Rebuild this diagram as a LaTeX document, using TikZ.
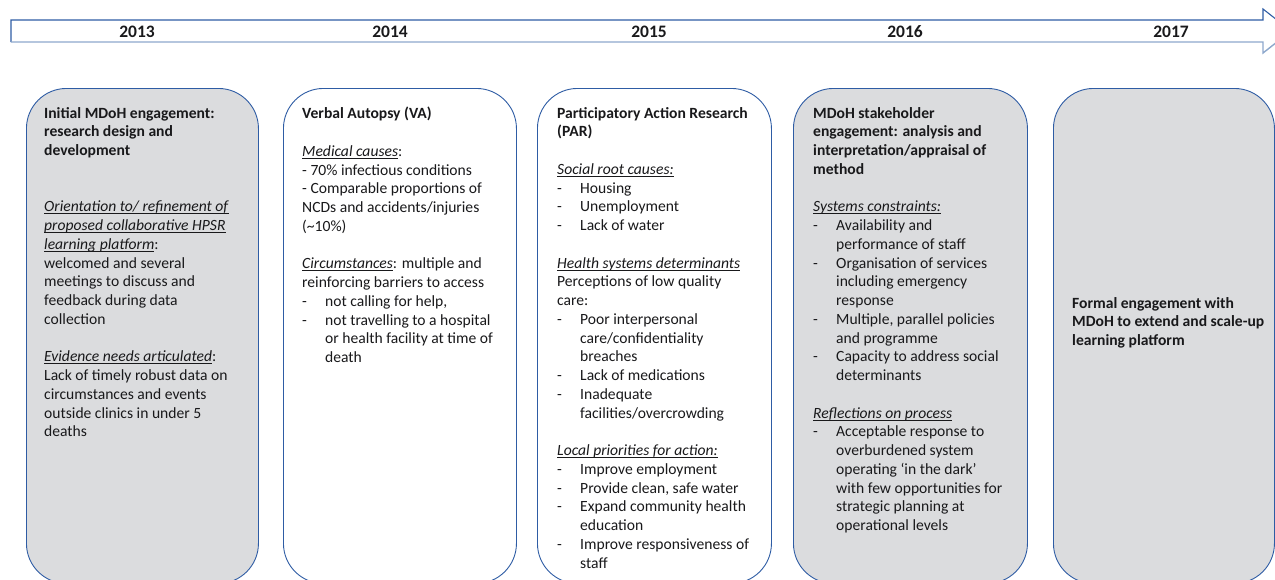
\documentclass[tikz,border=0pt]{standalone}
\usepackage{fontspec}
\setmainfont{Carlito}
\usepackage{tikz}

\definecolor{lineblue}{RGB}{46,92,164}
\definecolor{paleblue}{RGB}{141,168,204}
\definecolor{boxgray}{RGB}{219,220,222}
\definecolor{inkgray}{RGB}{25,25,27}

\newsavebox\topicbox
\newcommand{\topic}[1]{\sbox\topicbox{\textit{#1}}\rlap{\rule[-2.4pt]{\wd\topicbox}{0.9pt}}\usebox\topicbox}
\newcommand{\bul}[1]{\makebox[23pt][l]{-}#1}
\newcommand{\cont}{\hspace*{23pt}}

\begin{document}
\begin{tikzpicture}[x=1pt,y=-1pt,
		stage/.style={draw=lineblue,line width=0.9pt,rounded corners=40pt,anchor=north west,inner sep=0pt,minimum height=495pt},
		stagetext/.style={anchor=north west,align=left,inner sep=0pt,text=inkgray,font=\fontsize{15.6}{18.75}\selectfont,execute at begin node=\strut},
		yearlabel/.style={font=\fontsize{17.5}{21}\selectfont\bfseries,text=inkgray}]
			\useasboundingbox (0,0) rectangle (1275,579);
			\clip (0,0) rectangle (1275,579);

			% timeline
			\draw[lineblue,line width=1.1pt,line join=miter] (11,42) -- (11,20) -- (1263,20) -- (1263,9) -- (1291,31);
			\draw[paleblue,line width=1.4pt,line join=miter] (1291,31) -- (1263,53) -- (1263,42) -- (11,42);
			\foreach \yr/\xp in {2013/137,2014/390,2015/649,2016/905,2017/1171}
				\node[yearlabel] (y\yr) at (\xp,32) {\yr};

			% stages
			\node[stage,fill=boxgray,minimum width=232pt] (s13) at (26,88) {};
			\node[stage,fill=white,minimum width=233pt] (s14) at (283,88) {};
			\node[stage,fill=white,minimum width=234pt] (s15) at (537,88) {};
			\node[stage,fill=boxgray,minimum width=234pt] (s16) at (793,88) {};
			\node[stage,fill=boxgray,minimum width=221pt] (s17) at (1053,88) {};

			\node[stagetext] (t13) at (44,107) {\textbf{Initial MDoH engagement:}\\
				\textbf{research design and}\\
				\textbf{development}\\[37.5pt]
				\topic{Orientation to/ refinement of}\\
				\topic{proposed collaborative HPSR}\\
				\topic{learning platform}:\\
				welcomed and several\\
				meetings to discuss and\\
				feedback during data\\
				collection\\[18.75pt]
				\topic{Evidence needs articulated}:\\
				Lack of timely robust data on\\
				circumstances and events\\
				outside clinics in under 5\\
				deaths};

			\node[stagetext] (t14) at (302,107) {\textbf{Verbal Autopsy (VA)}\\[18.75pt]
				\topic{Medical causes}:\\
				- 70\% infectious conditions\\
				- Comparable proportions of\\
				NCDs and accidents/injuries\\
				(\textasciitilde10\%)\\[18.75pt]
				\topic{Circumstances}: multiple and\\
				reinforcing barriers to access\\
				\bul{not calling for help,}\\
				\bul{not travelling to a hospital}\\
				\cont or health facility at time of\\
				\cont death};

			\node[stagetext] (t15) at (557,107) {\textbf{Participatory Action Research}\\
				\textbf{(PAR)}\\[18.75pt]
				\topic{Social root causes:}\\
				\bul{Housing}\\
				\bul{Unemployment}\\
				\bul{Lack of water}\\[18.75pt]
				\topic{Health systems determinants}\\
				Perceptions of low quality\\
				care:\\
				\bul{Poor interpersonal}\\
				\cont care/confidentiality\\
				\cont breaches\\
				\bul{Lack of medications}\\
				\bul{Inadequate}\\
				\cont facilities/overcrowding\\[18.75pt]
				\topic{Local priorities for action:}\\
				\bul{Improve employment}\\
				\bul{Provide clean, safe water}\\
				\bul{Expand community health}\\
				\cont education\\
				\bul{Improve responsiveness of}\\
				\cont staff};

			\node[stagetext] (t16) at (813,107) {\textbf{MDoH stakeholder}\\
				\textbf{engagement: analysis and}\\
				\textbf{interpretation/appraisal of}\\
				\textbf{method}\\[18.75pt]
				\topic{Systems constraints:}\\
				\bul{Availability and}\\
				\cont performance of staff\\
				\bul{Organisation of services}\\
				\cont including emergency\\
				\cont response\\
				\bul{Multiple, parallel policies}\\
				\cont and programme\\
				\bul{Capacity to address social}\\
				\cont determinants\\[18.75pt]
				\topic{Reflections on process}\\
				\bul{Acceptable response to}\\
				\cont overburdened system\\
				\cont operating `in the dark'\\
				\cont with few opportunities for\\
				\cont strategic planning at\\
				\cont operational levels};

			\node[stagetext,font=\fontsize{15.6}{18.75}\selectfont\bfseries] (t17) at (1072,297) {Formal engagement with\\
				MDoH to extend and scale-up\\
				learning platform};
		\end{tikzpicture}
\end{document}
